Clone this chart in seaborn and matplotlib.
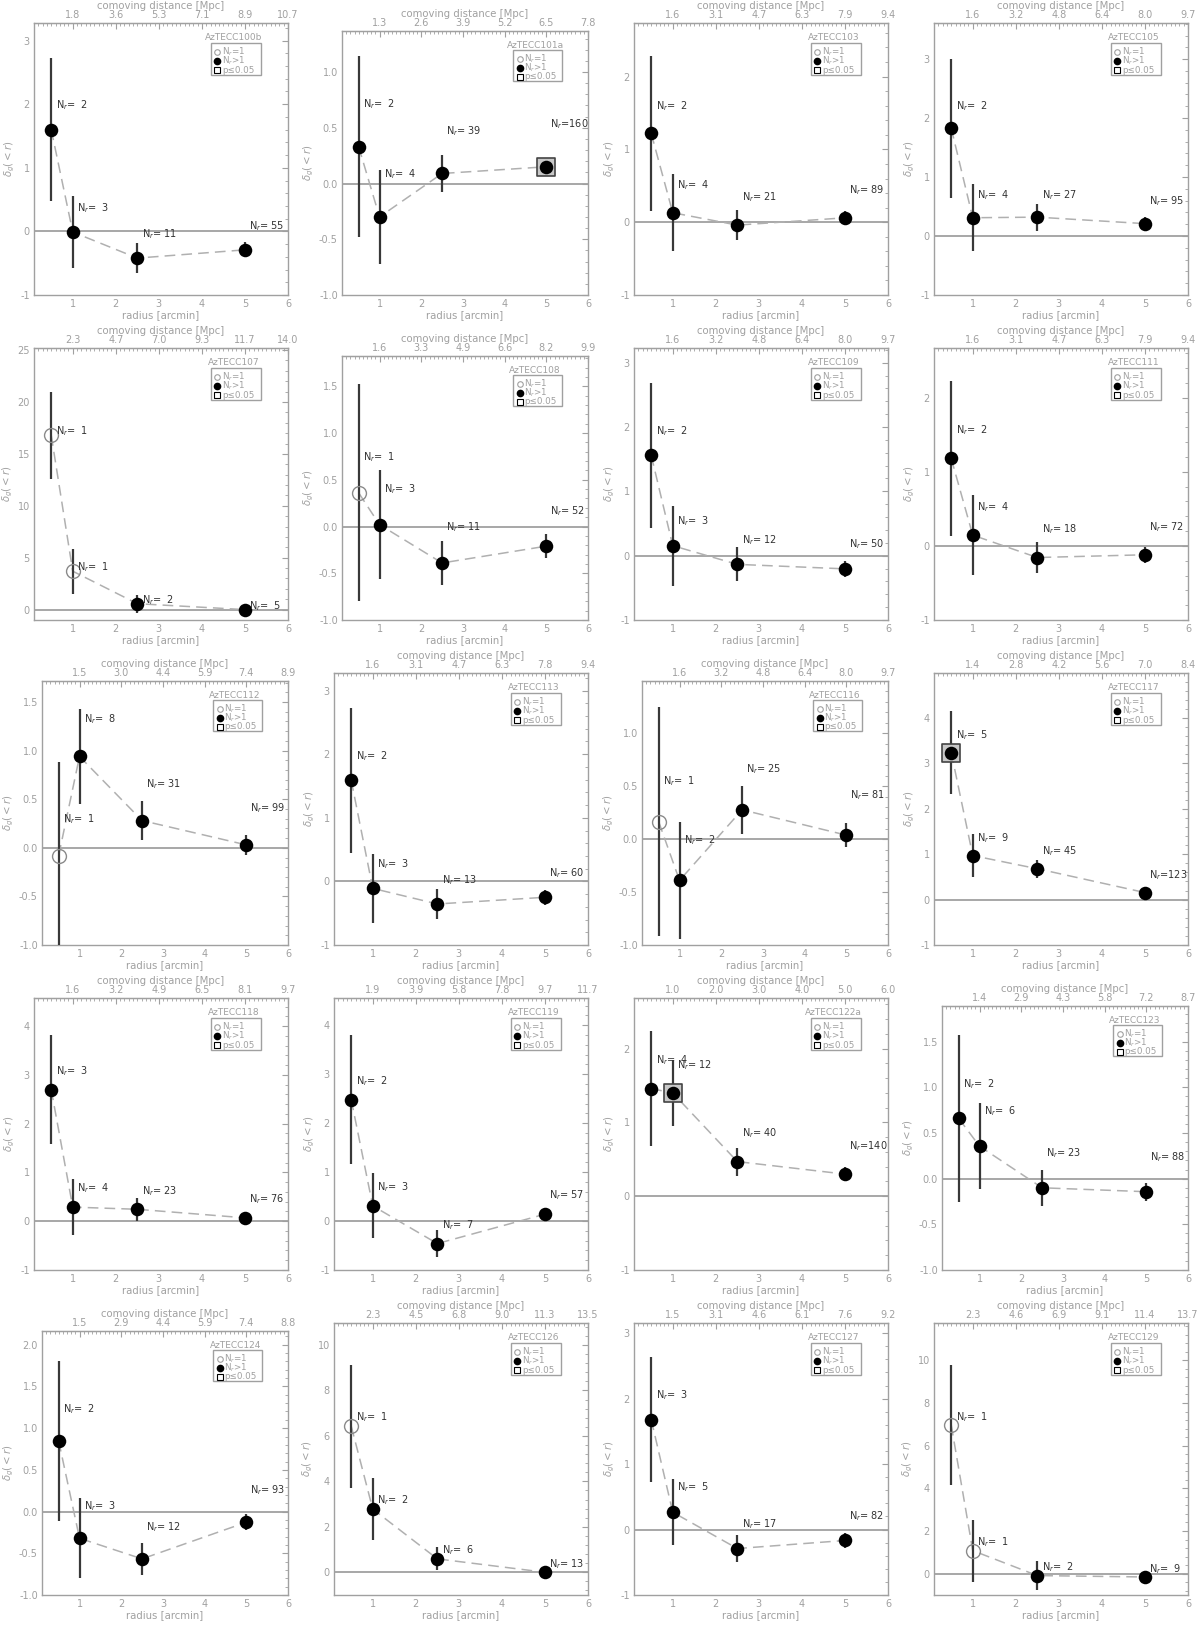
import numpy as np
import pandas as pd
import matplotlib
matplotlib.use("Agg")
import matplotlib.pyplot as plt
from matplotlib.ticker import MultipleLocator, FormatStrFormatter
from matplotlib.patches import Rectangle
import seaborn as sns

sns.set_style("white")
plt.rcParams["font.family"] = ["DejaVu Sans"]
plt.rcParams["mathtext.fontset"] = "dejavusans"

# ---------------- data ----------------
radius = [0.5, 1.0, 2.5, 5.0]

names = ["AzTECC100b", "AzTECC101a", "AzTECC103", "AzTECC105",
         "AzTECC107", "AzTECC108", "AzTECC109", "AzTECC111",
         "AzTECC112", "AzTECC113", "AzTECC116", "AzTECC117",
         "AzTECC118", "AzTECC119", "AzTECC122a", "AzTECC123",
         "AzTECC124", "AzTECC126", "AzTECC127", "AzTECC129"]

delta = [[1.60, -0.01, -0.42, -0.29],
         [0.33, -0.30, 0.09, 0.15],
         [1.22, 0.13, -0.04, 0.06],
         [1.83, 0.31, 0.32, 0.21],
         [16.8, 3.70, 0.57, 0.00],
         [0.36, 0.02, -0.39, -0.21],
         [1.56, 0.155, -0.135, -0.205],
         [1.18, 0.145, -0.157, -0.12],
         [-0.08, 0.94, 0.28, 0.03],
         [1.59, -0.11, -0.355, -0.25],
         [0.165, -0.39, 0.277, 0.038],
         [3.24, 0.97, 0.68, 0.155],
         [2.70, 0.29, 0.245, 0.07],
         [2.48, 0.31, -0.46, 0.14],
         [1.46, 1.40, 0.47, 0.30],
         [0.66, 0.355, -0.10, -0.143],
         [0.846, -0.32, -0.567, -0.128],
         [6.43, 2.78, 0.59, 0.00],
         [1.68, 0.265, -0.29, -0.167],
         [6.97, 1.08, -0.09, -0.155]]

delta_err = [[1.13, 0.56, 0.23, 0.12],
             [0.81, 0.42, 0.17, 0.08],
             [1.06, 0.53, 0.21, 0.10],
             [1.18, 0.57, 0.23, 0.11],
             [4.20, 2.15, 0.85, 0.12],
             [1.16, 0.585, 0.24, 0.125],
             [1.13, 0.62, 0.265, 0.125],
             [1.045, 0.537, 0.215, 0.108],
             [0.96, 0.49, 0.20, 0.10],
             [1.14, 0.54, 0.23, 0.117],
             [1.08, 0.55, 0.227, 0.115],
             [0.92, 0.475, 0.20, 0.08],
             [1.115, 0.57, 0.235, 0.105],
             [1.317, 0.665, 0.28, 0.136],
             [0.78, 0.45, 0.19, 0.09],
             [0.915, 0.47, 0.20, 0.10],
             [0.958, 0.48, 0.19, 0.096],
             [2.71, 1.35, 0.51, 0.24],
             [0.95, 0.50, 0.205, 0.11],
             [2.82, 1.45, 0.69, 0.29]]

n_r = [[2, 3, 11, 55], [2, 4, 39, 160], [2, 4, 21, 89], [2, 4, 27, 95],
       [1, 1, 2, 5], [1, 3, 11, 52], [2, 3, 12, 50], [2, 4, 18, 72],
       [1, 8, 31, 99], [2, 3, 13, 60], [1, 2, 25, 81], [5, 9, 45, 123],
       [3, 4, 23, 76], [2, 3, 7, 57], [4, 12, 40, 140], [2, 6, 23, 88],
       [2, 3, 12, 93], [1, 2, 6, 13], [3, 5, 17, 82], [1, 1, 2, 9]]

significant = [[0, 0, 0, 0], [0, 0, 0, 1], [0, 0, 0, 0], [0, 0, 0, 0],
               [0, 0, 0, 0], [0, 0, 0, 0], [0, 0, 0, 0], [0, 0, 0, 0],
               [0, 0, 0, 0], [0, 0, 0, 0], [0, 0, 0, 0], [1, 0, 0, 0],
               [0, 0, 0, 0], [0, 0, 0, 0], [0, 1, 0, 0], [0, 0, 0, 0],
               [0, 0, 0, 0], [0, 0, 0, 0], [0, 0, 0, 0], [0, 0, 0, 0]]

radius_ticks = [1, 2, 3, 4, 5, 6]
comoving_labels = [["1.8", "3.6", "5.3", "7.1", "8.9", "10.7"],
                   ["1.3", "2.6", "3.9", "5.2", "6.5", "7.8"],
                   ["1.6", "3.1", "4.7", "6.3", "7.9", "9.4"],
                   ["1.6", "3.2", "4.8", "6.4", "8.0", "9.7"],
                   ["2.3", "4.7", "7.0", "9.3", "11.7", "14.0"],
                   ["1.6", "3.3", "4.9", "6.6", "8.2", "9.9"],
                   ["1.6", "3.2", "4.8", "6.4", "8.0", "9.7"],
                   ["1.6", "3.1", "4.7", "6.3", "7.9", "9.4"],
                   ["1.5", "3.0", "4.4", "5.9", "7.4", "8.9"],
                   ["1.6", "3.1", "4.7", "6.3", "7.8", "9.4"],
                   ["1.6", "3.2", "4.8", "6.4", "8.0", "9.7"],
                   ["1.4", "2.8", "4.2", "5.6", "7.0", "8.4"],
                   ["1.6", "3.2", "4.9", "6.5", "8.1", "9.7"],
                   ["1.9", "3.9", "5.8", "7.8", "9.7", "11.7"],
                   ["1.0", "2.0", "3.0", "4.0", "5.0", "6.0"],
                   ["1.4", "2.9", "4.3", "5.8", "7.2", "8.7"],
                   ["1.5", "2.9", "4.4", "5.9", "7.4", "8.8"],
                   ["2.3", "4.5", "6.8", "9.0", "11.3", "13.5"],
                   ["1.5", "3.1", "4.6", "6.1", "7.6", "9.2"],
                   ["2.3", "4.6", "6.9", "9.1", "11.4", "13.7"]]

# y tick step per panel (style)
y_step = [1, 0.5, 1, 1, 5, 0.5, 1, 1, 0.5, 1, 0.5, 1, 1, 1, 1, 0.5, 0.5, 2, 1, 2]

# ---------------- style ----------------
GREY = "#a0a0a0"
DARK = "#383838"
W, H = 1200, 1627
fig = plt.figure(figsize=(12, 16.27), dpi=100)

for i, name in enumerate(names):
    row, col = divmod(i, 4)
    decimal = y_step[i] < 1
    left_px = col * 300 + (42 if decimal else 34)
    right_px = col * 300 + 288
    top_px = row * 325 + (31 if decimal else 23)
    bot_px = row * 325 + 295
    ax = fig.add_axes([left_px / W, 1 - bot_px / H,
                       (right_px - left_px) / W, (bot_px - top_px) / H])

    df = pd.DataFrame({"r": radius, "d": delta[i], "e": delta_err[i],
                       "n": n_r[i], "sig": significant[i]})
    ymax = 1.2 * float((df["d"] + df["e"]).max())
    ax.set_xlim(0.1, 6)
    ax.set_ylim(-1, ymax)

    ax.axhline(0, color=GREY, lw=1.3, zorder=1)
    sns.lineplot(data=df, x="r", y="d", sort=False, estimator=None, ax=ax,
                 color="#b0b0b0", lw=1.1, linestyle=(0, (7, 4)), zorder=2)
    ax.errorbar(df["r"], df["d"], yerr=df["e"], fmt="none", ecolor=DARK,
                elinewidth=1.6, capsize=0, zorder=3)
    sig_df = df[df["sig"] == 1]
    if len(sig_df):
        ax.scatter(sig_df["r"], sig_df["d"], marker="s", s=150,
                   facecolor="#c8c8c8", edgecolor="#444444", lw=1.2, zorder=4)
    filled = df[df["n"] > 1]
    opened = df[df["n"] == 1]
    sns.scatterplot(data=filled, x="r", y="d", ax=ax, color="black",
                    edgecolor="black", s=95, linewidth=0, zorder=5, legend=False)
    if len(opened):
        ax.plot(opened["r"], opened["d"], "o", ms=10, mfc="none",
                mec="#8a8a8a", mew=1.0, zorder=5)

    for r, d, n in zip(df["r"], df["d"], df["n"]):
        ax.text(r + 0.1, d + 0.38, "N$_r$=%3d" % n, fontsize=7, color="#333333",
                ha="left", va="center", zorder=6)

    # legend block
    ax.text(0.785, 0.946, name, transform=ax.transAxes, ha="center",
            va="center", fontsize=6.5, color=GREY)
    ax.add_patch(Rectangle((0.695, 0.81), 0.198, 0.117, transform=ax.transAxes,
                           fill=False, edgecolor=GREY, lw=1.0))
    ax.plot([0.722], [0.893], "o", ms=4, mfc="none", mec=GREY, mew=0.8,
            transform=ax.transAxes)
    ax.plot([0.722], [0.86], "o", ms=4.5, color="black", transform=ax.transAxes)
    ax.plot([0.722], [0.827], "s", ms=4, mfc="none", mec="black", mew=0.8,
            transform=ax.transAxes)
    for yy, lab in zip([0.893, 0.86, 0.827],
                       ["N$_r$=1", "N$_r$>1", "p\u22640.05"]):
        ax.text(0.74, yy, lab, transform=ax.transAxes, ha="left", va="center",
                fontsize=6.3, color=GREY)

    # axes styling
    for sp in ax.spines.values():
        sp.set_color(GREY)
        sp.set_linewidth(1.0)
    ax.set_xticks(radius_ticks)
    ax.xaxis.set_minor_locator(MultipleLocator(0.1))
    ax.yaxis.set_major_locator(MultipleLocator(y_step[i]))
    ax.yaxis.set_minor_locator(MultipleLocator(y_step[i] / 5))
    ax.yaxis.set_major_formatter(FormatStrFormatter("%.1f" if decimal else "%d"))
    ax.tick_params(which="both", direction="in", colors=GREY, labelcolor=GREY,
                   labelsize=7, right=True, top=False)
    ax.tick_params(which="major", length=4, width=0.8, pad=3)
    ax.tick_params(which="minor", length=2, width=0.6)
    ax.set_xlabel("radius [arcmin]", fontsize=7.3, color=GREY, labelpad=1)
    ax.set_ylabel(r"$\delta_g(<r)$", fontsize=7.3, color=GREY, labelpad=2)

    sec = ax.secondary_xaxis("top")
    sec.set_xticks(radius_ticks, labels=comoving_labels[i])
    sec.xaxis.set_minor_locator(MultipleLocator(0.1))
    sec.tick_params(which="both", direction="in", colors=GREY, labelcolor=GREY,
                    labelsize=7)
    sec.tick_params(which="major", length=4, width=0.8, pad=2)
    sec.tick_params(which="minor", length=2, width=0.6)
    sec.spines["top"].set_color(GREY)
    sec.set_xlabel("comoving distance [Mpc]", fontsize=7.3, color=GREY,
                   labelpad=1)

fig.savefig("out.png", dpi=100, facecolor="white")
